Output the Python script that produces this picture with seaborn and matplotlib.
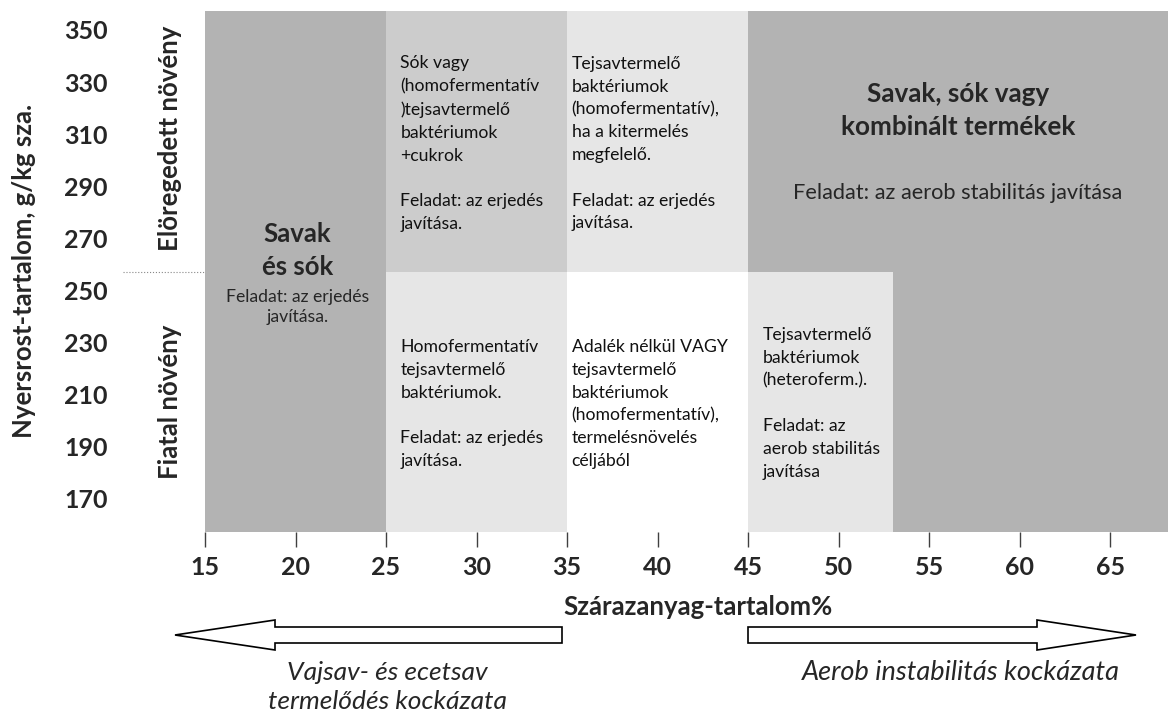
import matplotlib
matplotlib.use("Agg")
import numpy as np
import pandas as pd
import seaborn as sns
import matplotlib.pyplot as plt
from matplotlib.patches import FancyArrow
from matplotlib.lines import Line2D

sns.set_theme(style="white")
plt.rcParams['font.family'] = ['Lato', 'DejaVu Sans']

# zones of the decision chart (dry matter %, crude fibre g/kg DM)
zone_x0 = [15, 25, 35, 45, 25, 35, 45, 53]
zone_x1 = [25, 35, 45, 68.2, 35, 45, 53, 68.2]
zone_y0 = [157, 257, 257, 257, 157, 157, 157, 157]
zone_y1 = [357.3, 357.3, 357.3, 357.3, 257, 257, 257, 257]
zone_shade = ['#b3b3b3', '#cccccc', '#e6e6e6', '#b3b3b3',
              '#e6e6e6', '#ffffff', '#e6e6e6', '#b3b3b3']

x_ticks = [15, 20, 25, 30, 35, 40, 45, 50, 55, 60, 65]
y_ticks = [170, 190, 210, 230, 250, 270, 290, 310, 330, 350]

df = pd.DataFrame({'x0': zone_x0, 'x1': zone_x1, 'y0': zone_y0, 'y1': zone_y1})

W, H = 1168, 715
fig = plt.figure(figsize=(W / 100, H / 100), dpi=100)
ax = fig.add_axes([205 / W, 1 - 532 / H, 1 - 205 / W, (532 - 11) / H])

ax.bar(df['x0'], df['y1'] - df['y0'], width=df['x1'] - df['x0'], bottom=df['y0'],
       align='edge', color=zone_shade, linewidth=0)

ax.set_xlim(15, 68.2)
ax.set_ylim(157, 357.3)
ax.set_xticks(x_ticks)
ax.set_yticks(y_ticks)
ax.tick_params(axis='x', direction='out', length=11, width=1, color='#404040',
               bottom=True, pad=6, labelsize=18)
ax.tick_params(axis='y', length=0, pad=70, labelsize=18)
for lab in ax.get_xticklabels() + ax.get_yticklabels():
    lab.set_fontweight('bold')
for s in ax.spines.values():
    s.set_visible(False)
ax.grid(False)

txt = dict(fontsize=12.7, color='#111111', linespacing=1.52)

# left column
ax.text(20.1, 265.4, "Savak\nés sók", ha='center', va='center', fontsize=18.5,
        fontweight='bold', linespacing=1.45)
ax.text(20.1, 243.5, "Feladat: az erjedés\njavítása.", ha='center', va='center',
        fontsize=12.7, linespacing=1.26)

# upper row
ax.text(25.8, 306.3, "Sók vagy\n(homofermentatív\n)tejsavtermelő\nbaktériumok\n+cukrok\n\n"
        "Feladat: az erjedés\njavítása.", ha='left', va='center', **txt)
ax.text(35.25, 306.3, "Tejsavtermelő\nbaktériumok\n(homofermentatív),\nha a kitermelés\n"
        "megfelelő.\n\nFeladat: az erjedés\njavítása.", ha='left', va='center', **txt)
ax.text(56.6, 319, "Savak, sók vagy\nkombinált termékek", ha='center', va='center',
        fontsize=18.8, fontweight='bold', linespacing=1.45)
ax.text(56.6, 287.3, "Feladat: az aerob stabilitás javítása", ha='center', va='center',
        fontsize=15.7)

# lower row
ax.text(25.8, 206.2, "Homofermentatív\ntejsavtermelő\nbaktériumok.\n\n"
        "Feladat: az erjedés\njavítása.", ha='left', va='center', **txt)
ax.text(35.25, 206.2, "Adalék nélkül VAGY\ntejsavtermelő\nbaktériumok\n"
        "(homofermentatív),\ntermelésnövelés\ncéljából", ha='left', va='center', **txt)
ax.text(45.8, 206.4, "Tejsavtermelő\nbaktériumok\n(heteroferm.).\n\nFeladat: az\n"
        "aerob stabilitás\njavítása", ha='left', va='center', **txt)

# axis titles and row labels
fig.text(24 / W, 1 - 271 / H, "Nyersrost-tartalom, g/kg sza.", rotation=90,
         ha='center', va='center', fontsize=18.5, fontweight='bold')
fig.text(170 / W, 1 - 138 / H, "Elöregedett növény", rotation=90,
         ha='center', va='center', fontsize=18.5, fontweight='bold')
fig.text(170 / W, 1 - 402 / H, "Fiatal növény", rotation=90,
         ha='center', va='center', fontsize=18.5, fontweight='bold')
fig.text(698 / W, 1 - 607 / H, "Szárazanyag-tartalom%", ha='center', va='center',
         fontsize=18.5, fontweight='bold')

fig.add_artist(Line2D([123 / W, 205 / W], [1 - 272 / H, 1 - 272 / H],
                      transform=fig.transFigure, color='#888888', lw=0.8, ls=':'))

# risk arrows
arrow_kw = dict(width=16 / H, head_width=30 / H, length_includes_head=True,
                facecolor='white', edgecolor='black', linewidth=1.2,
                transform=fig.transFigure)
fig.add_artist(FancyArrow(562 / W, 1 - 635 / H, -(562 - 175) / W, 0,
                          head_length=100 / W, **arrow_kw))
fig.add_artist(FancyArrow(748 / W, 1 - 635 / H, (1136 - 748) / W, 0,
                          head_length=99 / W, **arrow_kw))

fig.text(387 / W, 1 - 687 / H, "Vajsav- és ecetsav\ntermelődés kockázata", ha='center',
         va='center', fontsize=19, style='italic', linespacing=1.3)
fig.text(961 / W, 1 - 673 / H, "Aerob instabilitás kockázata", ha='center',
         va='center', fontsize=19.5, style='italic')

fig.savefig("out.png", dpi=100)
